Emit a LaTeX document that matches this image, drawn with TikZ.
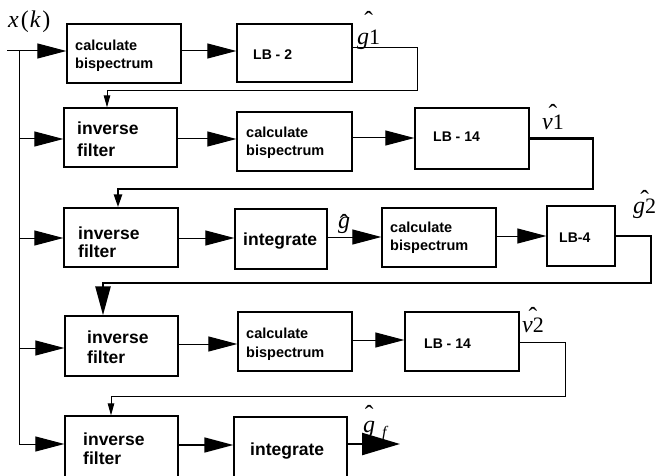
\documentclass[tikz,border=0pt]{standalone}
\usepackage{fontspec}
\setmainfont{Liberation Serif}
\setsansfont{Liberation Sans}
\usetikzlibrary{arrows.meta}
\newcommand\lblL[1]{{\fontsize{24}{26}\selectfont\itshape #1}}
\newcommand\lblD[1]{{\fontsize{22}{24}\selectfont #1}}
\newcommand\hatover[2]{\setbox0\hbox{#2}\hbox{\rlap{\hbox to\wd0{\hss\raisebox{#1}{\fontsize{26}{26}\selectfont\symbol{"02C6}}\hss}}\box0}}
\tikzset{
  x=1pt, y=-1pt,
  blk/.style={draw, line width=1.3pt, inner sep=0pt},
  calctxt/.style={font=\sffamily\bfseries\fontsize{14.5}{18}\selectfont, anchor=base west, inner sep=0pt},
  lbtxt/.style={font=\sffamily\bfseries\fontsize{14}{17}\selectfont, anchor=west, inner sep=0pt},
  bigtxt/.style={font=\sffamily\bfseries\fontsize{17.5}{21}\selectfont, anchor=base west, inner sep=0pt},
  lbl/.style={anchor=base west, inner sep=0pt},
  thin/.style={line width=1pt},
  thick2/.style={line width=2.5pt},
  bigarr/.style={-{Triangle[length=29pt,width=15pt]}},
  smallarr/.style={-{Triangle[length=12pt,width=6.5pt]}},
  midarr/.style={-{Triangle[length=13pt,width=8pt]}},
  hugearr/.style={-{Triangle[length=38pt,width=22pt]}},
}
\begin{document}
\begin{tikzpicture}
\clip (0,0) rectangle (659,476);
% ---------- boxes ----------
\node[blk, minimum width=114pt, minimum height=59pt] (c1) at (124,53.5) {};
\node[blk, minimum width=115pt, minimum height=58pt] (lb2) at (294.5,53) {};
\node[blk, minimum width=113pt, minimum height=59pt] (if2) at (120.5,137.5) {};
\node[blk, minimum width=115pt, minimum height=59pt] (c2) at (294.5,141.5) {};
\node[blk, minimum width=114pt, minimum height=61pt] (lb14a) at (472,138.5) {};
\node[blk, minimum width=114pt, minimum height=59pt] (if3) at (121,237.5) {};
\node[blk, minimum width=92pt, minimum height=60pt] (int3) at (281,239) {};
\node[blk, minimum width=114pt, minimum height=59pt] (c3) at (439,237.5) {};
\node[blk, minimum width=68pt, minimum height=60pt] (lb4) at (581,236) {};
\node[blk, minimum width=113pt, minimum height=60pt] (if4) at (121.5,346) {};
\node[blk, minimum width=114pt, minimum height=59pt] (c4) at (295,341.5) {};
\node[blk, minimum width=114pt, minimum height=59pt] (lb14b) at (462,341.5) {};
\node[blk, minimum width=113pt, minimum height=80pt] (if5) at (121.5,456) {};
\node[blk, minimum width=113pt, minimum height=80pt] (int5) at (290.5,457) {};
% ---------- box texts ----------
\node[calctxt] (t1a) at (75,51) {calculate};
\node[calctxt] (t1b) at (75,69) {bispectrum};
\node[lbtxt] (t1c) at (253,54.5) {LB - 2};
\node[bigtxt] (t2a) at (77,135) {inverse};
\node[bigtxt] (t2b) at (77,157) {filter};
\node[calctxt] (t2c) at (246,138) {calculate};
\node[calctxt] (t2d) at (246,156) {bispectrum};
\node[lbtxt] (t2e) at (433,137) {LB - 14};
\node[bigtxt] (t3a) at (78,239) {inverse};
\node[bigtxt] (t3b) at (78,257) {filter};
\node[bigtxt] (t3c) at (243,245) {integrate};
\node[calctxt] (t3d) at (390,233) {calculate};
\node[calctxt] (t3e) at (390,251) {bispectrum};
\node[lbtxt] (t3f) at (559,238) {LB-4};
\node[bigtxt] (t4a) at (87,343) {inverse};
\node[bigtxt] (t4b) at (87,363) {filter};
\node[calctxt] (t4c) at (246,338) {calculate};
\node[calctxt] (t4d) at (246,357) {bispectrum};
\node[lbtxt] (t4e) at (424,344) {LB - 14};
\node[bigtxt] (t5a) at (83,445) {inverse};
\node[bigtxt] (t5b) at (83,464) {filter};
\node[bigtxt] (t5c) at (250,455) {integrate};
% ---------- labels ----------
\node[lbl] (xk) at (8,28) {\lblL{x}\kern2pt\lblL{\upshape(}\kern1pt\lblL{k}\kern2pt\lblL{\upshape)}};
\node[lbl] (g1) at (357,45) {\hatover{15pt}{\lblL{g}\lblD{1}}};
\node[lbl] (v1) at (542,130) {\hatover{7pt}{\lblL{v}\lblD{1}}};
\node[lbl] (gh) at (338,229) {\hatover{-3pt}{\lblL{g}}};
\node[lbl] (g2) at (633,213) {\hatover{5pt}{\lblL{g}\lblD{2}}};
\node[lbl] (v2) at (522,332) {\hatover{7pt}{\lblL{v}\lblD{2}}};
\node[lbl] (gf) at (363,432) {\hatover{9pt}{\lblL{g}}\kern7pt\raisebox{-5pt}{\fontsize{16}{18}\selectfont\itshape f}};
% ---------- input bus ----------
\coordinate (in0) at (7,51);
\coordinate (bus1) at (19,51);
\coordinate (bus5) at (19,444);
\draw[thin] (in0) -- (bus1) -- (bus5);
\draw[thin, bigarr] (in0) -- (c1.west |- in0);
\draw[thin, bigarr] (19,139) -- (if2.west |- 0,139);
\draw[thin, bigarr] (19,238) -- (if3.west |- 0,238);
\draw[thin, bigarr] (19,348) -- (if4.west |- 0,348);
\draw[thin, bigarr] (bus5) -- (if5.west |- bus5);
% ---------- forward arrows ----------
\draw[thin, bigarr] (c1.east |- 0,51) -- (lb2.west |- 0,51);
\draw[thin, bigarr] (if2.east |- 0,139) -- (c2.west |- 0,139);
\draw[thin, bigarr] (c2.east |- 0,138) -- (lb14a.west |- 0,138);
\draw[thin, bigarr] (if3.east |- 0,238) -- (int3.west |- 0,238);
\draw[thin, bigarr] (int3.east |- 0,237) -- (c3.west |- 0,237);
\draw[thin, bigarr] (c3.east |- 0,236) -- (lb4.west |- 0,236);
\draw[thin, bigarr] (if4.east |- 0,344) -- (c4.west |- 0,344);
\draw[thin, bigarr] (c4.east |- 0,340) -- (lb14b.west |- 0,340);
\draw[line width=1.5pt, bigarr] (if5.east |- 0,445) -- (int5.west |- 0,445);
\coordinate (out) at (400,444);
\draw[thick2, hugearr] (int5.east |- out) -- (out);
% ---------- feedback loops ----------
\draw[thin, smallarr] (lb2.east |- 0,48) -| (417,91) -| (if2.north -| 107,0);
\draw[thick2, midarr] (lb14a.east) -| (593,189) -| (if3.north -| 118,0);
\draw[thick2, bigarr] (lb4.east) -| (651,283) -| (if4.north -| 103,0);
\draw[thin, smallarr] (lb14b.east |- 0,342) -| (565,396) -| (if5.north -| 111,0);
\end{tikzpicture}
\end{document}
